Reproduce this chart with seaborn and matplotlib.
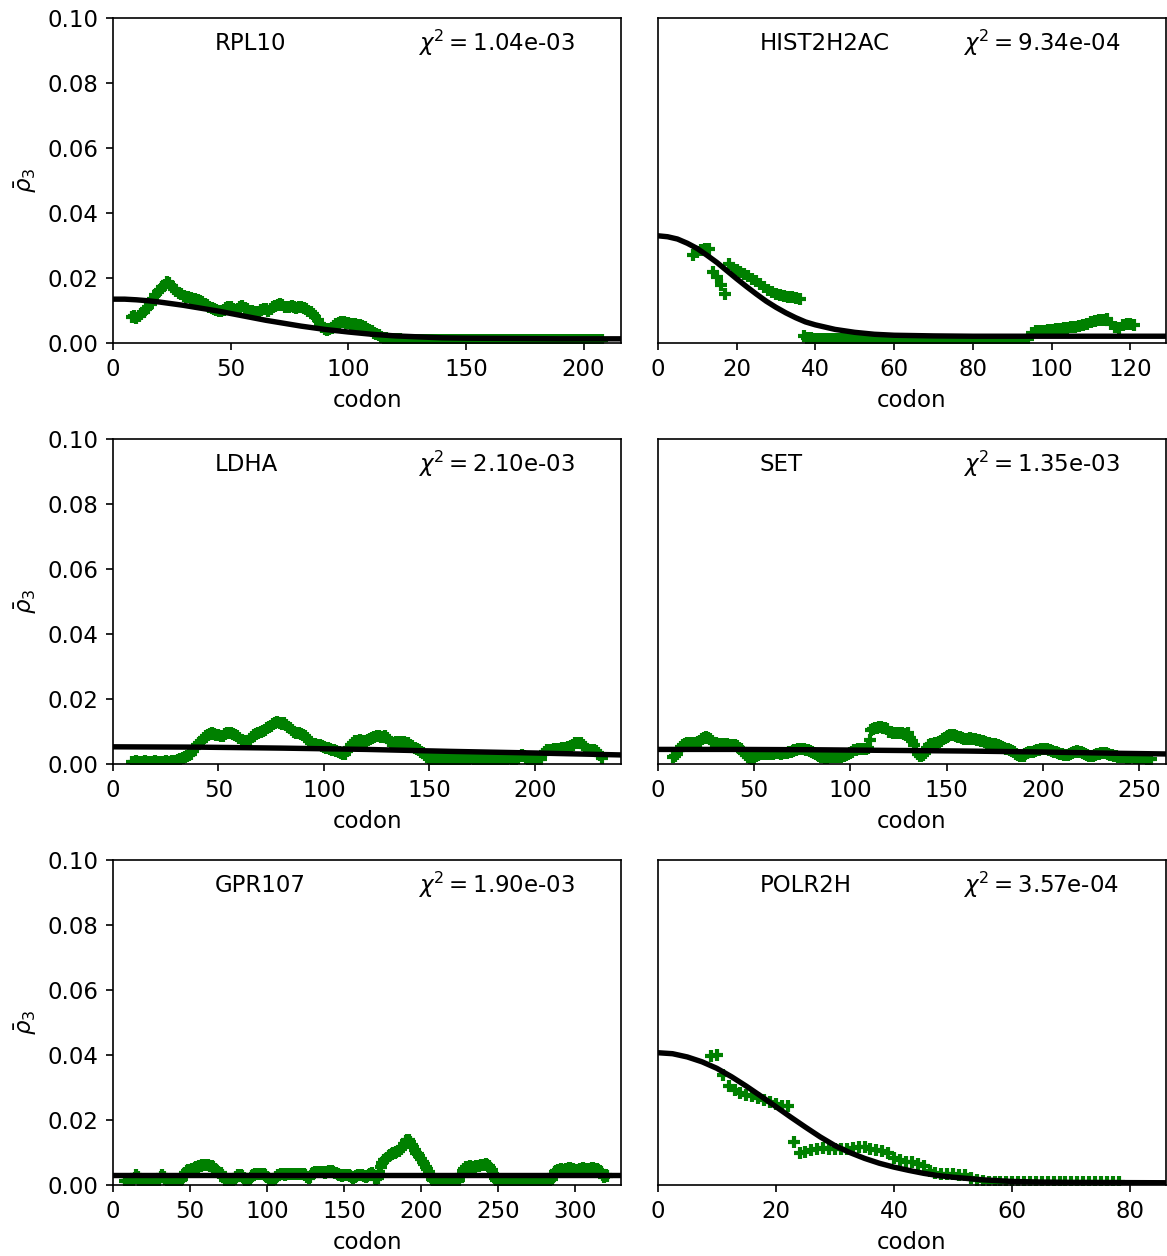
import numpy as np
import pandas as pd
import seaborn as sns
import matplotlib.pyplot as plt

genes = ['RPL10', 'HIST2H2AC', 'LDHA', 'SET', 'GPR107', 'POLR2H']
chi2 = ['1.04e-03', '9.34e-04', '2.10e-03', '1.35e-03', '1.90e-03', '3.57e-04']
gene_len = [216, 129, 241, 264, 330, 86]
first_codon = [8, 9, 9, 8, 8, 9]

# rho_3 per codon
rpl10_rho = [
    0.0080, 0.0083, 0.0078, 0.0084, 0.0090, 0.0097, 0.0104, 0.0112, 0.0121, 0.0134,
    0.0147, 0.0156, 0.0164, 0.0172, 0.0180, 0.0189, 0.0184, 0.0175, 0.0166, 0.0160,
    0.0154, 0.0150, 0.0146, 0.0143, 0.0141, 0.0139, 0.0136, 0.0134, 0.0131, 0.0128,
    0.0125, 0.0121, 0.0117, 0.0112, 0.0108, 0.0105, 0.0102, 0.0100, 0.0098, 0.0102,
    0.0108, 0.0112, 0.0110, 0.0106, 0.0102, 0.0105, 0.0110, 0.0113, 0.0109, 0.0104,
    0.0100, 0.0098, 0.0096, 0.0094, 0.0097, 0.0102, 0.0106, 0.0104, 0.0100, 0.0104,
    0.0110, 0.0115, 0.0118, 0.0120, 0.0116, 0.0112, 0.0110, 0.0112, 0.0115, 0.0112,
    0.0108, 0.0110, 0.0112, 0.0108, 0.0104, 0.0100, 0.0095, 0.0088, 0.0080, 0.0070,
    0.0058, 0.0048, 0.0042, 0.0040, 0.0042, 0.0046, 0.0052, 0.0058, 0.0063, 0.0065,
    0.0064, 0.0062, 0.0061, 0.0060, 0.0060, 0.0058, 0.0057, 0.0055, 0.0052, 0.0048,
    0.0044, 0.0040, 0.0036, 0.0032, 0.0028, 0.0024, 0.0020, 0.0017, 0.0015, 0.0013,
    0.0012, 0.0012, 0.0011, 0.0011, 0.0011, 0.0010, 0.0010, 0.0010, 0.0010, 0.0010,
    0.0010, 0.0010, 0.0009, 0.0010, 0.0010, 0.0010, 0.0009, 0.0010, 0.0010, 0.0010,
    0.0010, 0.0009, 0.0010, 0.0010, 0.0010, 0.0010, 0.0010, 0.0009, 0.0010, 0.0010,
    0.0010, 0.0010, 0.0010, 0.0010, 0.0009, 0.0010, 0.0010, 0.0010, 0.0010, 0.0010,
    0.0010, 0.0010, 0.0010, 0.0009, 0.0010, 0.0010, 0.0010, 0.0010, 0.0010, 0.0010,
    0.0010, 0.0010, 0.0010, 0.0010, 0.0010, 0.0009, 0.0010, 0.0010, 0.0010, 0.0010,
    0.0010, 0.0010, 0.0009, 0.0010, 0.0010, 0.0010, 0.0010, 0.0010, 0.0010, 0.0010,
    0.0010, 0.0010, 0.0010, 0.0010, 0.0010, 0.0010, 0.0009, 0.0010, 0.0010, 0.0010,
    0.0010, 0.0010, 0.0010, 0.0010, 0.0010, 0.0010, 0.0010, 0.0010, 0.0010, 0.0010,
    0.0010,
]

hist2h2ac_rho = [
    0.0270, 0.0280, 0.0285, 0.0288, 0.0290, 0.0220, 0.0202, 0.0180, 0.0152, 0.0243,
    0.0232, 0.0224, 0.0218, 0.0212, 0.0206, 0.0198, 0.0190, 0.0181, 0.0172, 0.0164,
    0.0157, 0.0151, 0.0147, 0.0145, 0.0143, 0.0141, 0.0139, 0.0136,
    0.0022, 0.0017, 0.0015, 0.0014, 0.0013, 0.0012, 0.0012, 0.0011, 0.0011, 0.0011,
    0.0012, 0.0011, 0.0010, 0.0010, 0.0011, 0.0012, 0.0011, 0.0010, 0.0010, 0.0009,
    0.0010, 0.0010,
    0.0009, 0.0009, 0.0010, 0.0009, 0.0009, 0.0009, 0.0010, 0.0009, 0.0009, 0.0009,
    0.0009, 0.0010, 0.0009, 0.0009, 0.0009, 0.0009, 0.0010, 0.0009, 0.0009, 0.0009,
    0.0009, 0.0009, 0.0010, 0.0009, 0.0009, 0.0009, 0.0009, 0.0010, 0.0009, 0.0009,
    0.0009, 0.0009, 0.0010, 0.0009, 0.0010, 0.0012,
    0.0030, 0.0036, 0.0038, 0.0038, 0.0040, 0.0041, 0.0042, 0.0044, 0.0045, 0.0047,
    0.0048, 0.0050, 0.0052, 0.0055, 0.0060, 0.0064, 0.0067, 0.0070, 0.0072, 0.0075,
    0.0058, 0.0050, 0.0046, 0.0055, 0.0060, 0.0058, 0.0054,
]

ldha_rho = [
    0.0007, 0.0007, 0.0008, 0.0007, 0.0007, 0.0007, 0.0008, 0.0007, 0.0007, 0.0007,
    0.0007, 0.0008, 0.0007, 0.0007, 0.0007, 0.0007, 0.0008, 0.0007, 0.0007, 0.0008,
    0.0009, 0.0010,
    0.0012, 0.0016, 0.0020, 0.0022, 0.0025, 0.0028, 0.0032, 0.0040, 0.0050, 0.0058,
    0.0065, 0.0072, 0.0080, 0.0086, 0.0090, 0.0092, 0.0094, 0.0093, 0.0090, 0.0088,
    0.0085, 0.0087, 0.0091, 0.0094, 0.0095, 0.0094, 0.0092, 0.0090, 0.0086, 0.0080,
    0.0075, 0.0070, 0.0068, 0.0070, 0.0075, 0.0082, 0.0088, 0.0092, 0.0094, 0.0098,
    0.0102, 0.0106, 0.0110, 0.0114, 0.0118, 0.0122, 0.0126, 0.0128, 0.0125, 0.0122,
    0.0126, 0.0120, 0.0114, 0.0110, 0.0106, 0.0100, 0.0096, 0.0094, 0.0092, 0.0090,
    0.0086, 0.0080, 0.0072, 0.0066, 0.0063, 0.0062, 0.0060, 0.0058, 0.0055, 0.0052,
    0.0050, 0.0048, 0.0046, 0.0044, 0.0042, 0.0040, 0.0038, 0.0034, 0.0030, 0.0032,
    0.0040, 0.0050, 0.0060, 0.0066, 0.0070, 0.0072, 0.0073, 0.0072, 0.0070, 0.0072,
    0.0075, 0.0078, 0.0081, 0.0084, 0.0086, 0.0085, 0.0083, 0.0084, 0.0086, 0.0080,
    0.0072, 0.0068, 0.0066, 0.0067, 0.0068, 0.0069, 0.0068, 0.0067, 0.0066, 0.0064,
    0.0060, 0.0055, 0.0050, 0.0046, 0.0042, 0.0038, 0.0033, 0.0028, 0.0022,
    0.0018, 0.0016, 0.0015, 0.0016, 0.0017, 0.0016, 0.0015, 0.0016, 0.0017, 0.0018,
    0.0017, 0.0016, 0.0015, 0.0016, 0.0016, 0.0017, 0.0016, 0.0015, 0.0016, 0.0017,
    0.0018, 0.0017, 0.0016, 0.0016, 0.0015, 0.0016, 0.0017, 0.0016, 0.0016, 0.0015,
    0.0016, 0.0017, 0.0018, 0.0017, 0.0016, 0.0015, 0.0016, 0.0017, 0.0018, 0.0017,
    0.0016, 0.0016, 0.0020, 0.0026, 0.0028, 0.0024, 0.0018, 0.0016, 0.0015, 0.0016,
    0.0017, 0.0018, 0.0016, 0.0015,
    0.0030, 0.0038, 0.0042, 0.0043, 0.0044, 0.0045, 0.0045, 0.0046, 0.0047, 0.0048,
    0.0049, 0.0050, 0.0052, 0.0055, 0.0060, 0.0064, 0.0066, 0.0066, 0.0064, 0.0060,
    0.0052, 0.0046, 0.0044, 0.0043, 0.0042, 0.0040, 0.0035, 0.0028, 0.0020,
]

set_rho = [
    0.0022, 0.0025, 0.0030, 0.0042, 0.0052, 0.0058, 0.0062, 0.0064, 0.0063, 0.0064,
    0.0065, 0.0064, 0.0066, 0.0068, 0.0072, 0.0077, 0.0080, 0.0082, 0.0080, 0.0076,
    0.0070, 0.0066, 0.0064, 0.0063, 0.0062, 0.0062, 0.0061, 0.0062, 0.0061, 0.0060,
    0.0060, 0.0059, 0.0058, 0.0055, 0.0050, 0.0045, 0.0040, 0.0034, 0.0028, 0.0022,
    0.0018, 0.0016, 0.0020, 0.0024, 0.0028, 0.0030, 0.0031, 0.0032, 0.0032, 0.0033,
    0.0032, 0.0031, 0.0032, 0.0033, 0.0034, 0.0033, 0.0032, 0.0033, 0.0034, 0.0035,
    0.0036, 0.0038, 0.0040, 0.0042, 0.0044, 0.0045, 0.0046, 0.0046, 0.0045, 0.0044,
    0.0042, 0.0040, 0.0037, 0.0034, 0.0030, 0.0027, 0.0024, 0.0022, 0.0021, 0.0020,
    0.0020, 0.0021, 0.0021, 0.0022, 0.0022, 0.0023, 0.0022, 0.0023, 0.0024, 0.0026,
    0.0028, 0.0030, 0.0034, 0.0038, 0.0042, 0.0044, 0.0045, 0.0045, 0.0046, 0.0046,
    0.0047, 0.0048, 0.0074, 0.0104, 0.0108, 0.0110, 0.0112, 0.0114, 0.0113, 0.0112,
    0.0110, 0.0108, 0.0100, 0.0098, 0.0096, 0.0097, 0.0096, 0.0095, 0.0096, 0.0094,
    0.0092, 0.0090, 0.0095, 0.0080, 0.0070, 0.0060, 0.0040, 0.0030, 0.0026, 0.0025,
    0.0028, 0.0035, 0.0048, 0.0058, 0.0062, 0.0063, 0.0064, 0.0066, 0.0068, 0.0072,
    0.0076, 0.0080, 0.0083, 0.0086, 0.0088, 0.0089, 0.0088, 0.0086, 0.0084, 0.0082,
    0.0080, 0.0078, 0.0077, 0.0078, 0.0079, 0.0078, 0.0077, 0.0076, 0.0075, 0.0074,
    0.0072, 0.0070, 0.0068, 0.0066, 0.0064, 0.0063, 0.0062, 0.0061, 0.0060, 0.0058,
    0.0056, 0.0053, 0.0050, 0.0047, 0.0045, 0.0043, 0.0040, 0.0036, 0.0032, 0.0028,
    0.0025, 0.0024, 0.0026, 0.0030, 0.0033, 0.0036, 0.0037, 0.0038, 0.0040, 0.0042,
    0.0044, 0.0045, 0.0046, 0.0046, 0.0045, 0.0044, 0.0042, 0.0040, 0.0038, 0.0036,
    0.0034, 0.0032, 0.0030, 0.0028, 0.0027, 0.0028, 0.0030, 0.0033, 0.0036, 0.0038,
    0.0039, 0.0038, 0.0036, 0.0033, 0.0030, 0.0027, 0.0025, 0.0024, 0.0025, 0.0027,
    0.0030, 0.0032, 0.0034, 0.0035, 0.0034, 0.0033, 0.0031, 0.0029, 0.0027, 0.0025,
    0.0024, 0.0023, 0.0022, 0.0022, 0.0021, 0.0021, 0.0020, 0.0020, 0.0021, 0.0021,
    0.0020, 0.0020, 0.0019, 0.0019, 0.0018, 0.0018, 0.0017, 0.0017, 0.0016,
]

gpr107_rho = [
    0.0012, 0.0013, 0.0012, 0.0011, 0.0012, 0.0015, 0.0022, 0.0030, 0.0024, 0.0016,
    0.0012, 0.0011, 0.0012, 0.0013, 0.0012, 0.0011, 0.0012, 0.0013, 0.0014, 0.0013,
    0.0012, 0.0013, 0.0016, 0.0024, 0.0030, 0.0026, 0.0018, 0.0013, 0.0012, 0.0011,
    0.0012, 0.0012, 0.0011, 0.0012, 0.0013, 0.0012, 0.0014, 0.0020,
    0.0030, 0.0038, 0.0044, 0.0046, 0.0047, 0.0048, 0.0050, 0.0052, 0.0054, 0.0056,
    0.0058, 0.0060, 0.0061, 0.0062, 0.0062, 0.0063, 0.0062, 0.0060, 0.0058, 0.0055,
    0.0050, 0.0045, 0.0040, 0.0038, 0.0036, 0.0032, 0.0024, 0.0016, 0.0012, 0.0012,
    0.0013, 0.0012, 0.0014, 0.0018, 0.0025, 0.0030, 0.0032, 0.0031, 0.0028, 0.0022,
    0.0016, 0.0013, 0.0014, 0.0020, 0.0028, 0.0032, 0.0034, 0.0035, 0.0034, 0.0033,
    0.0034, 0.0035, 0.0033, 0.0030, 0.0026, 0.0020, 0.0015, 0.0013, 0.0014, 0.0018,
    0.0025, 0.0030, 0.0032, 0.0033, 0.0034, 0.0033, 0.0032, 0.0033, 0.0034, 0.0035,
    0.0034, 0.0033, 0.0034, 0.0035, 0.0034, 0.0033, 0.0034, 0.0035, 0.0033, 0.0030,
    0.0026, 0.0022, 0.0026, 0.0034, 0.0038, 0.0040, 0.0041, 0.0040, 0.0039, 0.0040,
    0.0041, 0.0040, 0.0038, 0.0040, 0.0042, 0.0043, 0.0042, 0.0040, 0.0038, 0.0036,
    0.0034, 0.0032, 0.0030, 0.0028, 0.0030, 0.0032, 0.0031, 0.0030, 0.0028, 0.0025,
    0.0022, 0.0024, 0.0028, 0.0031, 0.0032, 0.0031, 0.0030, 0.0028, 0.0026, 0.0028,
    0.0032, 0.0035, 0.0036, 0.0030, 0.0022, 0.0018, 0.0022, 0.0040, 0.0055, 0.0068,
    0.0076, 0.0080, 0.0084, 0.0088, 0.0092, 0.0095, 0.0098, 0.0100, 0.0102, 0.0104,
    0.0106, 0.0110, 0.0118, 0.0126, 0.0134, 0.0140, 0.0138, 0.0132, 0.0124, 0.0116,
    0.0108, 0.0100, 0.0094, 0.0088, 0.0080, 0.0072, 0.0064, 0.0056, 0.0048, 0.0040,
    0.0030, 0.0020, 0.0014, 0.0012,
    0.0012, 0.0011, 0.0012, 0.0013, 0.0012, 0.0011, 0.0012, 0.0012, 0.0013, 0.0012,
    0.0011, 0.0012, 0.0012, 0.0013, 0.0012, 0.0014,
    0.0030, 0.0042, 0.0050, 0.0054, 0.0056, 0.0057, 0.0058, 0.0057, 0.0056, 0.0057,
    0.0058, 0.0059, 0.0060, 0.0061, 0.0062, 0.0063, 0.0064, 0.0062, 0.0058, 0.0052,
    0.0045, 0.0035, 0.0022, 0.0014,
    0.0012, 0.0011, 0.0012, 0.0013, 0.0012, 0.0011, 0.0012, 0.0012, 0.0013, 0.0012,
    0.0011, 0.0012, 0.0012, 0.0013, 0.0012, 0.0011, 0.0012, 0.0012, 0.0013, 0.0012,
    0.0011, 0.0012, 0.0012, 0.0013, 0.0012, 0.0011, 0.0012, 0.0012, 0.0013, 0.0012,
    0.0011, 0.0012, 0.0012, 0.0013, 0.0014,
    0.0020, 0.0032, 0.0040, 0.0044, 0.0046, 0.0047, 0.0048, 0.0047, 0.0046, 0.0048,
    0.0050, 0.0051, 0.0052, 0.0050, 0.0048, 0.0046, 0.0044, 0.0046, 0.0048, 0.0050,
    0.0051, 0.0050, 0.0048, 0.0046, 0.0048, 0.0050, 0.0052, 0.0051, 0.0050, 0.0048,
    0.0046, 0.0044, 0.0040, 0.0032, 0.0025, 0.0030, 0.0028,
]

polr2h_rho = [
    0.0398, 0.0400, 0.0338, 0.0305, 0.0292, 0.0282, 0.0278, 0.0275, 0.0268, 0.0262,
    0.0255, 0.0250, 0.0243, 0.0243, 0.0133, 0.0098, 0.0103, 0.0108, 0.0112, 0.0115,
    0.0112, 0.0110, 0.0110, 0.0112, 0.0115, 0.0118, 0.0117, 0.0112, 0.0108, 0.0104,
    0.0100, 0.0082, 0.0076, 0.0072, 0.0070, 0.0066, 0.0058, 0.0042, 0.0036, 0.0034,
    0.0034, 0.0033, 0.0032, 0.0030, 0.0022, 0.0015, 0.0011, 0.0010, 0.0010, 0.0010,
    0.0010, 0.0010, 0.0010, 0.0010, 0.0010, 0.0010, 0.0010, 0.0010, 0.0010, 0.0010,
    0.0010, 0.0010, 0.0010, 0.0010, 0.0010, 0.0010, 0.0010, 0.0010, 0.0010, 0.0010,
]

# fitted curves, sampled off the figure
rpl10_fit_x = [0, 5, 10, 15, 20, 25, 30, 35, 40, 45, 50, 55, 60, 65, 70, 75, 80, 85, 90, 95,
               100, 110, 120, 130, 140, 150, 170, 190, 216]
rpl10_fit_y = [0.0135, 0.0135, 0.0133, 0.0130, 0.0126, 0.0121, 0.0116, 0.0110, 0.0104, 0.0098,
               0.0091, 0.0084, 0.0077, 0.0070, 0.0064, 0.0058, 0.0052, 0.0047, 0.0042, 0.0038,
               0.0034, 0.0027, 0.0022, 0.0019, 0.0016, 0.0015, 0.0014, 0.0013, 0.0013]
hist2h2ac_fit_x = [0, 2.5, 5, 7.5, 10, 12.5, 15, 17.5, 20, 22.5, 25, 27.5, 30, 32.5, 35, 37.5,
                   40, 45, 50, 55, 60, 70, 80, 100, 129]
hist2h2ac_fit_y = [0.0330, 0.0327, 0.0320, 0.0307, 0.0291, 0.0270, 0.0248, 0.0223, 0.0198,
                   0.0174, 0.0151, 0.0129, 0.0110, 0.0093, 0.0078, 0.0065, 0.0056, 0.0042,
                   0.0033, 0.0027, 0.0024, 0.0022, 0.0021, 0.0021, 0.0021]
ldha_fit_x = [0, 40, 80, 120, 160, 200, 241]
ldha_fit_y = [0.0053, 0.0052, 0.0049, 0.0045, 0.0039, 0.0034, 0.0028]
set_fit_x = [0, 40, 80, 120, 160, 200, 240, 264]
set_fit_y = [0.0045, 0.0045, 0.0044, 0.0042, 0.0040, 0.0037, 0.0033, 0.0031]
gpr107_fit_x = [0, 330]
gpr107_fit_y = [0.0030, 0.0030]
polr2h_fit_x = [0, 2.5, 5, 7.5, 10, 12.5, 15, 17.5, 20, 22.5, 25, 27.5, 30, 32.5, 35, 37.5,
                40, 42.5, 45, 47.5, 50, 55, 60, 65, 70, 86]
polr2h_fit_y = [0.0407, 0.0404, 0.0394, 0.0379, 0.0359, 0.0333, 0.0304, 0.0273, 0.0241,
                0.0209, 0.0178, 0.0148, 0.0121, 0.0100, 0.0082, 0.0067, 0.0055, 0.0045,
                0.0036, 0.0029, 0.0024, 0.0016, 0.0011, 0.0009, 0.0008, 0.0007]

rho_all = [rpl10_rho, hist2h2ac_rho, ldha_rho, set_rho, gpr107_rho, polr2h_rho]
fit_all = [(rpl10_fit_x, rpl10_fit_y), (hist2h2ac_fit_x, hist2h2ac_fit_y),
           (ldha_fit_x, ldha_fit_y), (set_fit_x, set_fit_y),
           (gpr107_fit_x, gpr107_fit_y), (polr2h_fit_x, polr2h_fit_y)]

plt.rcParams['font.size'] = 11

fig, axes = plt.subplots(3, 2, figsize=(1167 / 150, 1256 / 150), dpi=150, sharey=True)
fig.subplots_adjust(left=0.0968, right=0.9991, top=0.9857, bottom=0.0565,
                    wspace=0.072, hspace=0.295)

for i, ax in enumerate(axes.flat):
    rho = rho_all[i]
    df = pd.DataFrame({'codon': np.arange(first_codon[i], first_codon[i] + len(rho)),
                       'rho': rho})
    sns.scatterplot(data=df, x='codon', y='rho', marker='+', color='green',
                    s=38, linewidth=2.0, ax=ax, zorder=2)
    fx, fy = fit_all[i]
    sns.lineplot(x=fx, y=fy, color='black', linewidth=2.6, ax=ax, zorder=3)
    ax.set_xlim(0, gene_len[i])
    ax.set_ylim(0, 0.1)
    ax.set_xlabel('codon')
    if i % 2 == 0:
        ax.set_ylabel(r'$\bar{\rho}_3$')
    else:
        ax.set_ylabel('')
        ax.tick_params(axis='y', left=False)
    ax.text(0.2, 0.9, genes[i], transform=ax.transAxes)
    ax.text(0.6, 0.9, r'$\chi^2 = $' + chi2[i], transform=ax.transAxes)

fig.savefig('out.png', dpi=150)
